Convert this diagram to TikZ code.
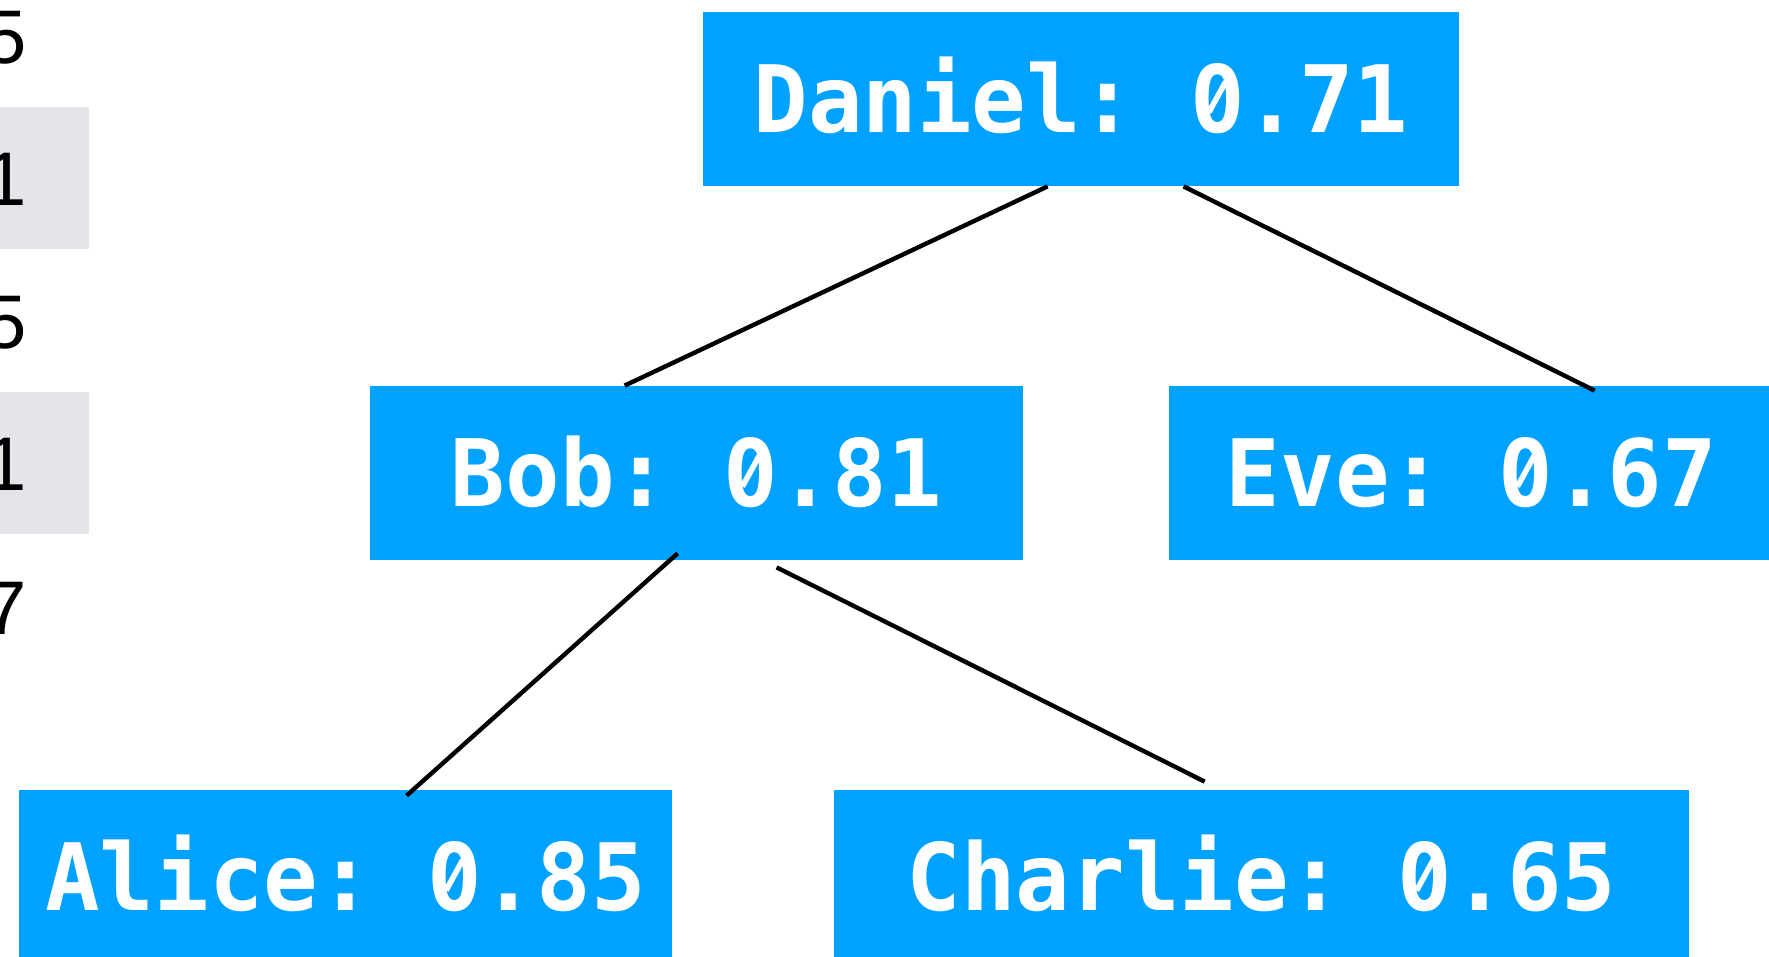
\documentclass[tikz,border=0pt]{standalone}
\usepackage{fontspec}
\setmonofont{DejaVu Sans Mono}[FakeStretch=0.975]
\newfontfamily\cellfont{Liberation Sans}
\usetikzlibrary{calc}
\definecolor{nodeblue}{HTML}{00A2FF}
\definecolor{cellgray}{HTML}{E4E5E9}
\newcommand\labelfont{\fontsize{46.5}{50}\selectfont\ttfamily\bfseries}
% slashed zero: the glyph 0 with its dot replaced by a slash
\newsavebox\slzerobox
\sbox\slzerobox{\labelfont\tikz[baseline=0pt]{%
  \node[inner sep=0pt, anchor=base west, text=white] (zeroglyph) at (0,0) {0};
  \fill[nodeblue] (0.2935em,0.365em) ellipse [x radius=0.07em, y radius=0.1em];
  \draw[white, line width=0.06em] (0.205em,0.22em) -- (0.385em,0.55em);}}
\newcommand\slz{\usebox\slzerobox}
\begin{document}
\begin{tikzpicture}[x=0.5pt,y=-0.5pt,
  tnode/.style={fill=nodeblue, text=white, inner sep=0pt, minimum height=87pt,
    text height=33.9pt, text depth=0pt, font=\labelfont},
  edge/.style={line width=2.2pt, black},
  cell/.style={anchor=base east, inner sep=0pt, font=\fontsize{38}{40}\selectfont\cellfont}]
\useasboundingbox (0,0) rectangle (1769,957);
\clip (0,0) rectangle (1769,957);
% left table fragment
\fill[cellgray] (0,107) rectangle (89,249);
\fill[cellgray] (0,392) rectangle (89,534);
\node[cell] (c1) at (27,64) {5};
\node[cell] (c2) at (27,206) {1};
\node[cell] (c3) at (27,349) {5};
\node[cell] (c4) at (27,491) {1};
\node[cell] (c5) at (27,634) {7};
% tree nodes
\node[tnode, minimum width=378pt] (daniel) at (1081,99) {Daniel: \slz.71};
\node[tnode, minimum width=326.5pt] (bob) at (696.5,473) {Bob: \slz.81};
\node[tnode, minimum width=302.5pt] (eve) at (1471.5,473) {Eve: \slz.67};
\node[tnode, minimum width=326.5pt] (alice) at (345.5,877) {Alice: \slz.85};
\node[tnode, minimum width=427.5pt] (charlie) at (1261.5,877) {Charlie: \slz.65};
% edges
\draw[edge] ($(daniel.south west)+(345,0)$) -- ($(bob.north west)+(255,0)$);
\draw[edge] ($(daniel.south west)+(481,0)$) -- ($(eve.north west)+(426,5)$);
\draw[edge] ($(bob.south west)+(308,-7)$) -- ($(alice.north west)+(388,6)$);
\draw[edge] ($(bob.south west)+(407,7)$) -- ($(charlie.north west)+(371,-8)$);
\end{tikzpicture}
\end{document}
